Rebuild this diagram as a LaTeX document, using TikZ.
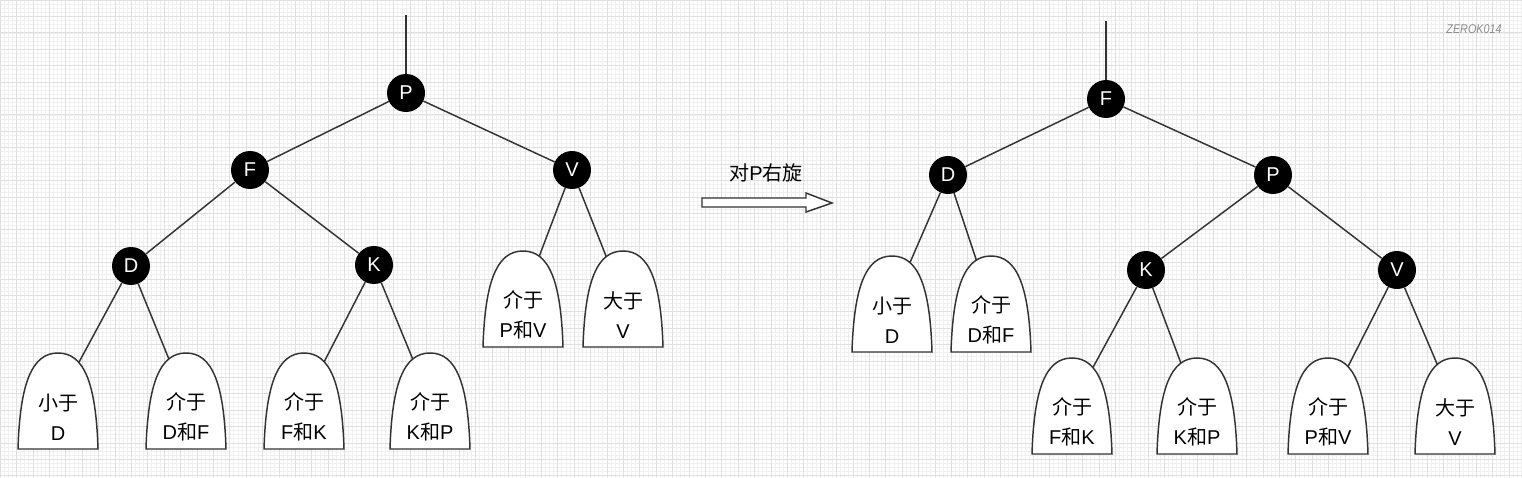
\documentclass[tikz,border=0pt]{standalone}
\usepackage{fontspec}
\setmainfont{Liberation Sans}
\newfontfamily\cjk{Noto Sans CJK SC}
\usetikzlibrary{calc}
\pgfdeclarelayer{gridlayer}
\pgfdeclarelayer{edgelayer}
\pgfsetlayers{gridlayer,edgelayer,main}
\tikzset{
  keynode/.style={circle, fill=black, text=white, minimum size=28.5pt, inner sep=0pt, font=\fontsize{15}{17}\selectfont},
  treeedge/.style={draw=black!80, line width=1.1pt},
  domeshape/.style={draw=black!80, line width=1.1pt, fill=white},
  domelabel/.style={align=center, font=\fontsize{15}{22.5}\selectfont, inner sep=0pt},
  minorgrid/.style={draw=black!6, line width=0.35pt},
  majorgrid/.style={draw=black!12, line width=0.45pt},
  blockarrow/.style={draw=black!80, line width=1.1pt, fill=white},
}
\newcommand{\subtree}[4]{%
  \coordinate (#1) at (#2,#3+48);
  \draw[domeshape] ($(#1)+(-40,48)$) .. controls ($(#1)+(-38,-18)$) and ($(#1)+(-26,-48)$) .. ($(#1)+(0,-48)$)
        .. controls ($(#1)+(26,-48)$) and ($(#1)+(38,-18)$) .. ($(#1)+(40,48)$) -- cycle;
  \node[domelabel] (#1t) at ($(#1)+(0,16)$) {#4};
}
\begin{document}
\begin{tikzpicture}[x=0.75pt,y=-0.75pt]
\useasboundingbox (0,0) rectangle (1522,478);
\begin{pgfonlayer}{gridlayer}
  \fill[white] (0,0) rectangle (1522,478);
  \draw[minorgrid, step=3.075pt] (0,0) grid (1522,478);
  \draw[majorgrid, step=12.3pt] (0,0) grid (1522,478);
\end{pgfonlayer}

% ---------- left tree ----------
\coordinate (LTop) at (406,15);
\node[keynode] (LP) at (406,93) {P};
\node[keynode] (LF) at (250,170) {F};
\node[keynode] (LV) at (572,170) {V};
\node[keynode] (LD) at (131,266) {D};
\node[keynode] (LK) at (374,265) {K};
\subtree{L1}{58}{353}{{\cjk 小于}\\D}
\subtree{L2}{186}{353}{{\cjk 介于}\\D{\cjk 和}F}
\subtree{L3}{304}{353}{{\cjk 介于}\\F{\cjk 和}K}
\subtree{L4}{430}{353}{{\cjk 介于}\\K{\cjk 和}P}
\subtree{L5}{523}{251}{{\cjk 介于}\\P{\cjk 和}V}
\subtree{L6}{623}{251}{{\cjk 大于}\\V}

% ---------- arrow ----------
\node[font=\fontsize{15}{17}\selectfont, inner sep=0pt] (rot) at (766,173) {{\cjk 对}P{\cjk 右旋}};
\draw[blockarrow] (702,198) -- (806,198) -- (806,193) -- (832,203) -- (806,212) -- (806,207) -- (702,207) -- cycle;

% ---------- right tree ----------
\coordinate (RTop) at (1106,21);
\node[keynode] (RF) at (1106,99) {F};
\node[keynode] (RD) at (948,175) {D};
\node[keynode] (RP) at (1273,175) {P};
\node[keynode] (RK) at (1146,270) {K};
\node[keynode] (RV) at (1397,270) {V};
\subtree{R1}{892}{256}{{\cjk 小于}\\D}
\subtree{R2}{991}{256}{{\cjk 介于}\\D{\cjk 和}F}
\subtree{R3}{1072}{358}{{\cjk 介于}\\F{\cjk 和}K}
\subtree{R4}{1197}{358}{{\cjk 介于}\\K{\cjk 和}P}
\subtree{R5}{1328}{358}{{\cjk 介于}\\P{\cjk 和}V}
\subtree{R6}{1455}{358}{{\cjk 大于}\\V}

% ---------- watermark ----------
\node[text=black!45, font=\fontsize{9.5}{10}\selectfont\itshape, inner sep=0pt, xscale=0.85] (wm) at (1474,29) {ZEROK014};

% ---------- edges ----------
\begin{pgfonlayer}{edgelayer}
  \draw[treeedge] (LTop) -- (LP);
  \draw[treeedge] (LP) -- (LF);
  \draw[treeedge] (LP) -- (LV);
  \draw[treeedge] (LF) -- (LD);
  \draw[treeedge] (LF) -- (LK);
  \draw[treeedge] (LD) -- (L1);
  \draw[treeedge] (LD) -- (L2);
  \draw[treeedge] (LK) -- (L3);
  \draw[treeedge] (LK) -- (L4);
  \draw[treeedge] (LV) -- (L5);
  \draw[treeedge] (LV) -- (L6);
  \draw[treeedge] (RTop) -- (RF);
  \draw[treeedge] (RF) -- (RD);
  \draw[treeedge] (RF) -- (RP);
  \draw[treeedge] (RP) -- (RK);
  \draw[treeedge] (RP) -- (RV);
  \draw[treeedge] (RD) -- (R1);
  \draw[treeedge] (RD) -- (R2);
  \draw[treeedge] (RK) -- (R3);
  \draw[treeedge] (RK) -- (R4);
  \draw[treeedge] (RV) -- (R5);
  \draw[treeedge] (RV) -- (R6);
\end{pgfonlayer}
\end{tikzpicture}
\end{document}
